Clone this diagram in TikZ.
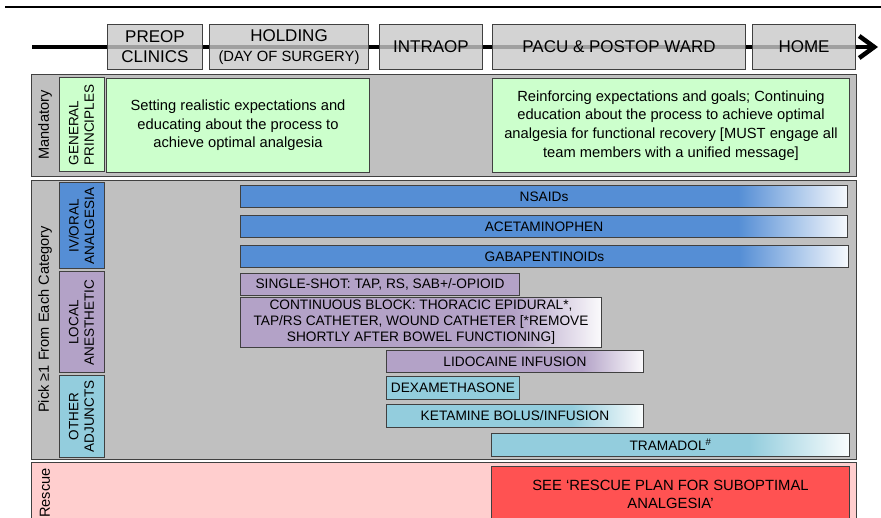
\documentclass[tikz,border=0pt]{standalone}
\usepackage{fontspec}
\setmainfont{Liberation Sans}
\usetikzlibrary{positioning,arrows.meta}

\definecolor{edgegray}{RGB}{64,64,64}
\definecolor{phasegray}{RGB}{200,200,200}
\definecolor{panelgray}{RGB}{192,192,192}
\definecolor{mintgreen}{RGB}{204,255,204}
\definecolor{ivblue}{RGB}{85,142,213}
\definecolor{lilac}{RGB}{179,162,199}
\definecolor{teal}{RGB}{147,205,221}
\definecolor{rescuepink}{RGB}{255,206,206}
\definecolor{rescuered}{RGB}{255,82,82}

\pgfdeclarehorizontalshading{bluefade}{100bp}{color(0bp)=(ivblue); color(66bp)=(ivblue); color(75bp)=(white!95!ivblue); color(100bp)=(white)}
\pgfdeclarehorizontalshading{lilacfade}{100bp}{color(0bp)=(lilac); color(63bp)=(lilac); color(75bp)=(white!95!lilac); color(100bp)=(white)}
\pgfdeclarehorizontalshading{tealfade}{100bp}{color(0bp)=(teal); color(61bp)=(teal); color(75bp)=(white!95!teal); color(100bp)=(white)}

\tikzstyle{phase} = [draw=edgegray, fill=phasegray, fill opacity=0.8, text opacity=1,
    line width=1pt, minimum height=45pt, inner sep=0pt, align=center,
    font={\fontsize{17}{20}\selectfont}]
\tikzstyle{panel} = [draw=edgegray, line width=1.2pt, anchor=north west, inner sep=0pt]
\tikzstyle{sidelabel} = [rotate=90, inner sep=0pt, font={\fontsize{14.6}{17}\selectfont}]
\tikzstyle{catbox} = [draw=edgegray, line width=1pt, rotate=90, inner sep=0pt, align=center,
    font={\fontsize{13.5}{15.5}\selectfont}]
\tikzstyle{notebox} = [draw=edgegray, fill=mintgreen, line width=1pt, anchor=north west,
    inner sep=0pt, minimum height=94pt, align=center, font={\fontsize{14.7}{18.6}\selectfont}]
\tikzstyle{bar} = [draw=edgegray, line width=1pt, anchor=north west, inner sep=0pt,
    minimum height=22pt, align=center, font={\fontsize{13.7}{16}\selectfont}]

\begin{document}
\begin{tikzpicture}[x=1pt, y=-1pt]
\useasboundingbox (0,0) rectangle (881,518);
\clip (0,0) rectangle (881,518);

% rule and time line
\coordinate (rulel) at (5,7);
\coordinate (ruler) at (881,7);
\draw[line width=2.6pt] (rulel) -- (ruler);
\coordinate (tstart) at (32,47);
\coordinate (tend) at (878,47);
\draw[line width=4.5pt, -{Straight Barb[length=15pt,width=22pt]}] (tstart) -- (tend);

\node[phase, minimum width=95pt, anchor=north west] (preop) at (107,24) {PREOP\\CLINICS};
\node[phase, minimum width=159pt, right=6pt of preop] (holding)
    {HOLDING\\{\fontsize{14.8}{18}\selectfont(DAY OF SURGERY)}};
\node[phase, minimum width=103pt, right=10pt of holding] (intraop) {INTRAOP};
\node[phase, minimum width=253pt, right=9pt of intraop] (pacu) {PACU \& POSTOP WARD};
\node[phase, minimum width=103pt, right=6pt of pacu] (home) {HOME};

% mandatory
\node[panel, fill=panelgray, minimum width=825pt, minimum height=102pt] (mandpanel) at (31,74) {};
\node[sidelabel] (mandlabel) at (45,125) {Mandatory};
\node[catbox, fill=mintgreen, minimum width=94pt, minimum height=45pt, align=left] (general)
    at (81.5,125) {GENERAL\\PRINCIPLES};
\node[notebox, minimum width=263pt] (preopnote) at (106,78)
    {Setting realistic expectations and\\educating about the process to\\achieve optimal analgesia};
\node[notebox, minimum width=357pt] (postopnote) at (492,78)
    {Reinforcing expectations and goals; Continuing\\education about the process to achieve optimal\\analgesia for functional recovery [MUST engage all\\team members with a unified message]};

% pick from each category
\node[panel, fill=panelgray, minimum width=825pt, minimum height=279pt] (pickpanel) at (31,180) {};
\node[sidelabel] (picklabel) at (45,319.5) {Pick ≥1 From Each Category};
\node[catbox, fill=ivblue, minimum width=86pt, minimum height=45pt] (ivoral)
    at (81.5,226) {IV/ORAL\\ANALGESIA};
\node[catbox, fill=lilac, minimum width=101pt, minimum height=45pt] (local)
    at (81.5,322.5) {LOCAL\\ANESTHETIC};
\node[catbox, fill=teal, minimum width=81pt, minimum height=45pt] (adjuncts)
    at (81.5,416.5) {OTHER\\ADJUNCTS};

\node[bar, shading=bluefade, minimum width=607pt] (nsaid) at (240,185) {NSAIDs};
\node[bar, shading=bluefade, minimum width=607pt] (acetam) at (240,215) {ACETAMINOPHEN};
\node[bar, shading=bluefade, minimum width=608pt] (gaba) at (240,245) {GABAPENTINOIDs};
\node[bar, fill=lilac, minimum width=279pt] (single) at (240,273) {SINGLE-SHOT: TAP, RS, SAB+/-OPIOID};
\node[bar, shading=lilacfade, minimum width=361pt, minimum height=50pt] (contblock) at (240,297)
    {CONTINUOUS BLOCK: THORACIC EPIDURAL*,\\TAP/RS CATHETER, WOUND CATHETER [*REMOVE\\SHORTLY AFTER BOWEL FUNCTIONING]};
\node[bar, shading=lilacfade, minimum width=257pt] (lido) at (386,350) {LIDOCAINE INFUSION};
\node[bar, fill=teal, minimum width=133pt, minimum height=23pt] (dexa) at (386,376) {DEXAMETHASONE};
\node[bar, shading=tealfade, minimum width=257pt, minimum height=23pt] (ketamine) at (386,404) {KETAMINE BOLUS/INFUSION};
\node[bar, shading=tealfade, minimum width=358pt, minimum height=23pt] (tramadol) at (491,433) {TRAMADOL\textsuperscript{\#}};

% rescue
\node[panel, fill=rescuepink, minimum width=825pt, minimum height=62pt] (rescuepanel) at (31,462) {};
\node[sidelabel] (rescuelabel) at (45,493) {Rescue};
\node[bar, fill=rescuered, minimum width=358pt, minimum height=56pt, font={\fontsize{14.8}{17.5}\selectfont}]
    (rescueplan) at (491,466) {SEE ‘RESCUE PLAN FOR SUBOPTIMAL\\ANALGESIA’};

\end{tikzpicture}
\end{document}
